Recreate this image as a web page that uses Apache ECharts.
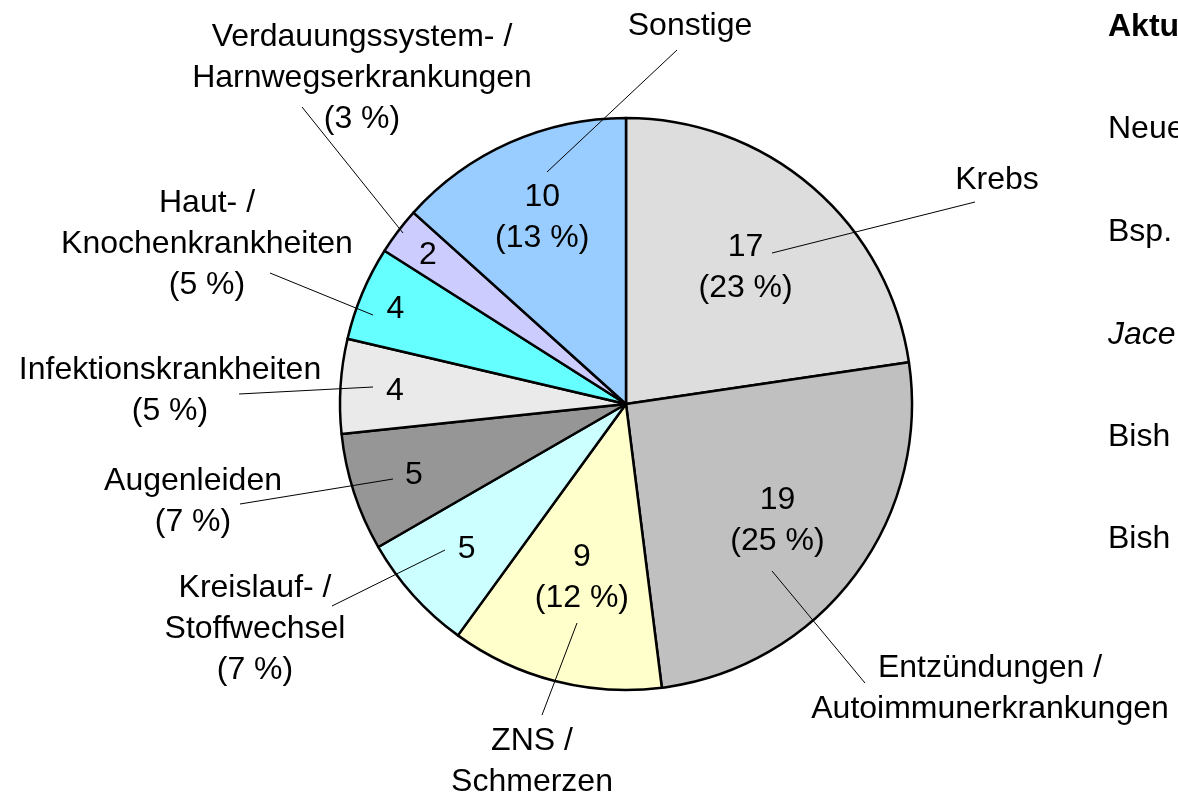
<!DOCTYPE html>
<html>
<head>
<meta charset="utf-8">
<script src="https://cdn.jsdelivr.net/npm/echarts@6/dist/echarts.min.js"></script>
<style>
  html, body { margin: 0; padding: 0; background: #fff; overflow: hidden; }
  #pie-chart { width: 1178px; height: 793px; }
</style>
</head>
<body>
<div id="pie-chart"></div>
<script>
// data
const categories = ['Krebs', 'Entzündungen /\nAutoimmunerkrankungen', 'ZNS /\nSchmerzen', 'Kreislauf- /\nStoffwechsel',
    'Augenleiden', 'Infektionskrankheiten', 'Haut- /\nKnochenkrankheiten', 'Verdauungssystem- /\nHarnwegserkrankungen', 'Sonstige'];
const counts = [17, 19, 9, 5, 5, 4, 4, 2, 10];
// percentage printed inside the slice (true) or under the name outside (false)
const pctInside = [true, true, true, false, false, false, false, false, true];
const sideTexts = ['Aktu', 'Neue', 'Bsp.', 'Jace', 'Bish', 'Bish'];

// styles / layout
const sliceColors = ['#DDDDDD', '#C0C0C0', '#FFFFCC', '#CCFFFF', '#969696', '#EAEAEA', '#66FFFF', '#CCCCFF', '#99CCFF'];
const CX = 626, CY = 404, R = 286;
const innerFrac = [0.64, 0.665, 0.62, 0.75, 0.78, 0.81, 0.875, 0.87, 0.72];
const outerPos = [[997, 180], [990, 689], [532, 762], [255, 629], [193, 502], [170, 391], [207, 244], [362, 78], [690, 26]];
const leaderLines = [
    [[772, 253], [975, 202]],
    [[772, 571], [865, 683]],
    [[577, 623], [542, 715]],
    [[445, 550], [332, 606]],
    [[393, 479], [240, 504]],
    [[373, 387], [239, 394]],
    [[373, 315], [270, 273]],
    [[403, 233], [302, 107]],
    [[547, 172], [677, 50]]
];
const sideX = 1108;
const sideY = [27, 129, 232, 335, 437, 539];
const FONT = '"Liberation Sans", Arial, sans-serif';

const total = counts.reduce((a, b) => a + b, 0);
function midAngle(i) {
    let before = 0;
    for (let k = 0; k < i; k++) before += counts[k];
    return (before + counts[i] / 2) / total * Math.PI * 2;
}

const textStyle = { fontSize: 32, lineHeight: 41, color: '#000', fontFamily: FONT };

const chart = echarts.init(document.getElementById('pie-chart'), null, { renderer: 'canvas' });

chart.setOption({
    backgroundColor: '#fff',
    animation: false,
    series: [
        {
            type: 'pie',
            center: [CX, CY],
            radius: R,
            startAngle: 90,
            clockwise: true,
            percentPrecision: 0,
            avoidLabelOverlap: false,
            silent: true,
            data: categories.map((name, i) => ({ name, value: counts[i], itemStyle: { color: sliceColors[i] } })),
            itemStyle: { borderColor: '#000', borderWidth: 2.5 },
            label: Object.assign({
                position: 'inside',
                formatter: p => pctInside[p.dataIndex] ? p.value + '\n(' + p.percent + ' %)' : String(p.value)
            }, textStyle),
            labelLayout: function (p) {
                const a = midAngle(p.dataIndex);
                const r = R * innerFrac[p.dataIndex];
                return {
                    x: CX + r * Math.sin(a),
                    y: CY - r * Math.cos(a) + 2,
                    align: 'center',
                    verticalAlign: 'middle'
                };
            }
        },
        {
            type: 'pie',
            center: [CX, CY],
            radius: R,
            startAngle: 90,
            clockwise: true,
            percentPrecision: 0,
            avoidLabelOverlap: false,
            silent: true,
            z: 3,
            data: categories.map((name, i) => ({ name, value: counts[i] })),
            itemStyle: { color: 'rgba(0,0,0,0)', borderWidth: 0 },
            label: Object.assign({
                position: 'outside',
                align: 'center',
                formatter: p => pctInside[p.dataIndex] ? p.name : p.name + '\n(' + p.percent + ' %)'
            }, textStyle),
            labelLine: { show: true, length: 10, length2: 0, lineStyle: { color: '#000', width: 1 } },
            labelLayout: function (p) {
                const pos = outerPos[p.dataIndex];
                return {
                    x: pos[0],
                    y: pos[1],
                    align: 'center',
                    verticalAlign: 'middle',
                    labelLinePoints: leaderLines[p.dataIndex]
                };
            }
        }
    ],
    graphic: sideTexts.map((t, i) => ({
        type: 'text',
        x: sideX,
        y: sideY[i],
        silent: true,
        style: {
            text: t,
            fill: '#000',
            font: (i === 0 ? 'bold ' : '') + (i === 3 ? 'italic ' : '') + '32px ' + FONT,
            verticalAlign: 'middle'
        }
    }))
});
</script>
</body>
</html>
